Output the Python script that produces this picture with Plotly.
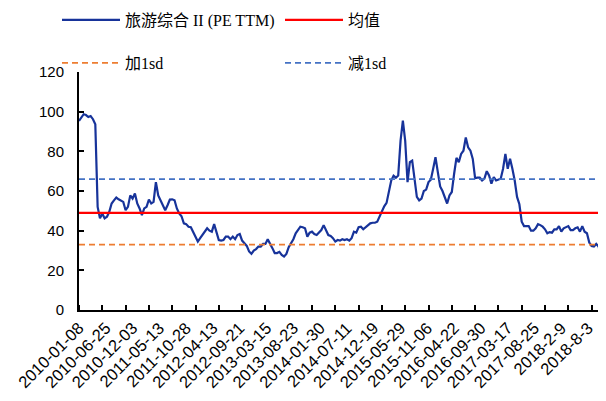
import plotly.graph_objects as go

# PE TTM, one reading every 2 weeks (week index 0, 2, 4, ...)
pe_values = [
    95.3, 97.0, 98.7, 98.3, 97.3, 97.8, 96.2, 93.7, 52.0, 46.2,
    48.7, 46.2, 47.0, 49.5, 53.7, 55.3, 56.7, 55.8, 55.3, 54.5,
    50.3, 52.0, 57.8, 56.2, 58.7, 53.7, 51.2, 47.8, 51.2, 52.0,
    55.7, 53.7, 54.5, 64.5, 57.8, 55.3, 52.0, 50.3, 52.8, 55.7,
    55.8, 55.3, 51.2, 48.7, 47.3, 43.7, 43.3, 42.0, 41.7, 39.5,
    37.0, 34.5, 36.2, 37.8, 39.5, 41.2, 40.0,
    39.5, 43.3, 38.7, 35.3, 35.0, 35.3, 37.0, 37.0, 35.7, 37.0,
    35.7, 37.8, 38.3, 35.0, 33.7, 32.3, 29.5, 28.3, 30.0, 30.7,
    32.0, 32.0, 33.3, 33.3, 35.7, 33.7, 31.2, 28.7, 28.7, 29.3,
    27.8, 27.0, 28.3, 31.7, 33.7, 35.7, 38.7, 40.3, 42.0, 41.7,
    41.2, 37.0, 39.0, 39.5, 38.3, 37.8, 39.0, 40.3, 42.8, 40.3,
    37.8, 37.3, 36.2, 34.5, 35.3, 35.0,
    35.7, 35.3, 35.7, 35.0, 36.2, 39.5, 39.0, 41.7, 42.0, 40.7,
    41.7, 42.3, 43.7, 44.0, 44.0, 44.5, 47.3, 49.2, 52.3, 54.0,
    60.3, 65.3, 67.7, 66.7, 67.8, 85.3, 95.5, 85.3, 64.5, 74.5,
    75.3, 67.0, 57.0, 55.3, 56.2, 60.0, 60.7, 64.5, 65.7, 71.2,
    77.0, 69.5, 62.3, 60.0, 57.0, 53.7, 57.8, 59.5, 68.7, 76.7,
    74.5, 78.7, 80.3, 87.0,
    82.0, 80.3, 76.2, 66.5, 66.7, 66.7, 65.3, 66.2, 70.0, 67.8,
    63.7, 67.0, 65.3, 65.7, 66.2, 71.2, 78.7, 71.2, 76.2, 71.2,
    65.3, 57.0, 53.3, 44.5, 42.3, 42.3, 42.3, 40.0, 40.0, 41.2,
    43.3, 42.8, 42.0, 40.7, 38.7, 39.3, 39.0, 40.7, 40.7, 42.3,
    39.5, 41.2, 41.7, 42.3, 40.3, 40.3, 41.2, 41.7, 39.5, 42.3,
    39.5, 38.7, 34.0, 32.3, 32.0, 33.3, 32.0, 27.0, 27.8,
]
mean_val = 49.0
plus_sd_val = 33.0   # labelled 加1sd in the source
minus_sd_val = 66.0  # labelled 减1sd in the source

tick_labels = [
    "2010-01-08", "2010-06-25", "2010-12-03", "2011-05-13", "2011-10-28",
    "2012-04-13", "2012-09-21", "2013-03-15", "2013-08-23", "2014-01-30",
    "2014-07-11", "2014-12-19", "2015-05-29", "2015-11-06", "2016-04-22",
    "2016-09-30", "2017-03-17", "2017-08-25", "2018-2-9", "2018-8-3",
]
series_names = ["旅游综合 II (PE TTM)", "均值", "加1sd", "减1sd"]

STEP = 2
LABEL_EVERY = 23
TICK_EVERY = 20
weeks = [i * STEP for i in range(len(pe_values))]
x_max = weeks[-1] + 1.5
ref_x = [0, x_max]

fig = go.Figure()
fig.add_trace(go.Scatter(x=weeks, y=pe_values, mode="lines", name=series_names[0],
                         line=dict(color="#17339A", width=2.2), legend="legend"))
fig.add_trace(go.Scatter(x=ref_x, y=[mean_val] * 2, mode="lines", name=series_names[1],
                         line=dict(color="#FF0000", width=2.2), legend="legend"))
fig.add_trace(go.Scatter(x=ref_x, y=[plus_sd_val] * 2, mode="lines", name=series_names[2],
                         line=dict(color="#ED7D31", width=1.8, dash="6px,4px"), legend="legend2"))
fig.add_trace(go.Scatter(x=ref_x, y=[minus_sd_val] * 2, mode="lines", name=series_names[3],
                         line=dict(color="#4472C4", width=1.8, dash="6px,4px"), legend="legend2"))

xtick_font = dict(family="Liberation Sans, Arial, sans-serif", size=16.5, color="black")
ytick_font = dict(family="Liberation Sans, Arial, sans-serif", size=15, color="black")
legend_font = dict(family="Liberation Serif, Noto Sans CJK SC, serif", size=16, color="black")

W, H = 606, 401
leg_common = dict(orientation="h", xanchor="left", yanchor="middle",
                  xref="container", yref="container",
                  entrywidth=150, entrywidthmode="pixels", itemwidth=58,
                  font=legend_font, bgcolor="rgba(0,0,0,0)", traceorder="normal")

fig.update_layout(
    width=W, height=H,
    margin=dict(l=71, r=9, t=64, b=99, autoexpand=False),
    paper_bgcolor="white", plot_bgcolor="white",
    showlegend=True,
    xaxis=dict(
        range=[0, x_max],
        tickvals=[i * LABEL_EVERY for i in range(len(tick_labels))],
        ticktext=tick_labels,
        tickangle=-45,
        ticks="",
        tickfont=xtick_font,
        automargin=False,
        showline=True, linecolor="black", linewidth=2,
        showgrid=False, zeroline=False,
        minor=dict(tick0=0, dtick=TICK_EVERY, ticks="inside", ticklen=5,
                   tickwidth=1.5, tickcolor="black", showgrid=False),
    ),
    yaxis=dict(
        range=[0, 120], dtick=20,
        ticks="inside", ticklen=5, tickwidth=1.5, tickcolor="black",
        tickfont=ytick_font,
        ticklabelstandoff=10,
        automargin=False,
        showline=True, linecolor="black", linewidth=2,
        showgrid=False, zeroline=False,
    ),
    legend=dict(x=49 / W, y=1 - 12 / H, **leg_common),
    legend2=dict(x=49 / W, y=1 - 55 / H, **leg_common),
)

fig.write_html("out.html")
